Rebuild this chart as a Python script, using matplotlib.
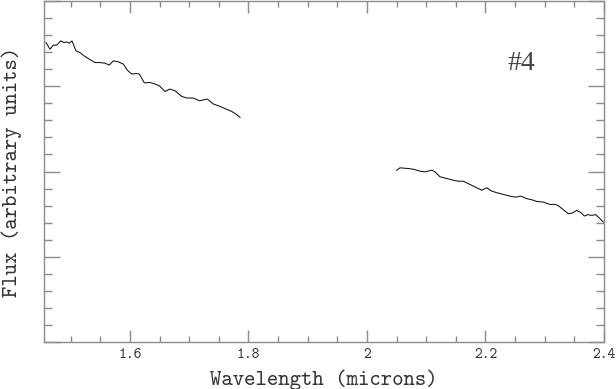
import numpy as np
import matplotlib
matplotlib.use('Agg')
import matplotlib.pyplot as plt
from matplotlib.ticker import MultipleLocator, NullFormatter

# H band piece of the spectrum
wave_h = [1.4584, 1.4651, 1.4707, 1.4764, 1.4832, 1.4888, 1.4933, 1.4977, 1.5022, 1.5090,
          1.5157, 1.5225, 1.5314, 1.5411, 1.5495, 1.5579, 1.5652, 1.5719, 1.5804, 1.5888,
          1.5956, 1.6030, 1.6114, 1.6158, 1.6243, 1.6339, 1.6423, 1.6496, 1.6592, 1.6676,
          1.6761, 1.6874, 1.6958, 1.7069, 1.7171, 1.7238, 1.7306, 1.7407, 1.7520, 1.7621,
          1.7717, 1.7802, 1.7858]
flux_h = [3.512, 3.435, 3.482, 3.482, 3.532, 3.512, 3.520, 3.505, 3.532, 3.415,
          3.395, 3.357, 3.318, 3.278, 3.278, 3.271, 3.248, 3.298, 3.287, 3.260,
          3.189, 3.143, 3.150, 3.143, 3.040, 3.044, 3.026, 3.006, 2.939, 2.967,
          2.947, 2.881, 2.862, 2.862, 2.830, 2.839, 2.850, 2.792, 2.764, 2.733,
          2.705, 2.667, 2.635]

# K band piece
wave_k = [2.0502, 2.0558, 2.0698, 2.0782, 2.0895, 2.0979, 2.1092, 2.1148, 2.1233, 2.1346,
          2.1457, 2.1541, 2.1626, 2.1739, 2.1852, 2.1936, 2.2021, 2.2105, 2.2178, 2.2301,
          2.2414, 2.2510, 2.2599, 2.2696, 2.2780, 2.2864, 2.2976, 2.3089, 2.3173, 2.3229,
          2.3313, 2.3398, 2.3465, 2.3539, 2.3612, 2.3668, 2.3725, 2.3792, 2.3860, 2.3932,
          2.3988]
flux_k = [2.015, 2.043, 2.035, 2.027, 2.004, 1.996, 2.015, 1.996, 1.938, 1.918,
          1.898, 1.886, 1.886, 1.848, 1.809, 1.781, 1.809, 1.770, 1.754, 1.731,
          1.711, 1.699, 1.711, 1.681, 1.669, 1.649, 1.641, 1.614, 1.614, 1.599,
          1.552, 1.505, 1.512, 1.544, 1.517, 1.477, 1.494, 1.485, 1.494, 1.447,
          1.407]

xticks = [1.6, 1.8, 2.0, 2.2, 2.4]
xticklabels = ['1.6', '1.8', '2', '2.2', '2.4']

# pgplot-ish look: thin serif typewriter font (ships with matplotlib)
plt.rcParams['font.family'] = ['cmtt10', 'Liberation Mono']

fig = plt.figure(figsize=(6.16, 3.89), dpi=100)
ax = fig.add_axes([44/616, 47/389, 560/616, 341/389])

ax.plot(wave_h, flux_h, color='#111111', lw=0.75)
ax.plot(wave_k, flux_k, color='#111111', lw=0.75)

ax.set_xlim(1.455, 2.4)
ax.set_ylim(0, 4)

ax.set_xticks(xticks)
ax.set_xticklabels(xticklabels)
ax.xaxis.set_minor_locator(MultipleLocator(0.05))
ax.yaxis.set_major_locator(MultipleLocator(1))
ax.yaxis.set_minor_locator(MultipleLocator(0.2))
ax.yaxis.set_major_formatter(NullFormatter())

grey = '#8c8c8c'
for s in ax.spines.values():
    s.set_color(grey)
    s.set_linewidth(1.0)
ax.tick_params(axis='both', which='both', direction='in', top=True, right=True,
               color=grey, labelcolor='#333333', labelsize=10.7)
ax.tick_params(axis='x', which='major', length=8.5, width=1)
ax.tick_params(axis='x', which='minor', length=4.5, width=1)
ax.tick_params(axis='y', which='major', length=11.5, width=1)
ax.tick_params(axis='y', which='minor', length=6, width=1)
ax.tick_params(axis='x', pad=4)

ax.set_xlabel('Wavelength (microns)', fontsize=15.6, color='#333333')
ax.set_ylabel('Flux (arbitrary units)', fontsize=15.6, color='#333333')
ax.xaxis.set_label_coords(0.5, -0.082)
ax.yaxis.set_label_coords(-0.04, 0.5)

# object number, thin serif like the original
ax.text(2.26, 3.27, '#4', fontsize=20, color='#444444', ha='center', va='center',
        family=['Liberation Serif', 'DejaVu Serif'])

fig.savefig('out.png', dpi=100)
